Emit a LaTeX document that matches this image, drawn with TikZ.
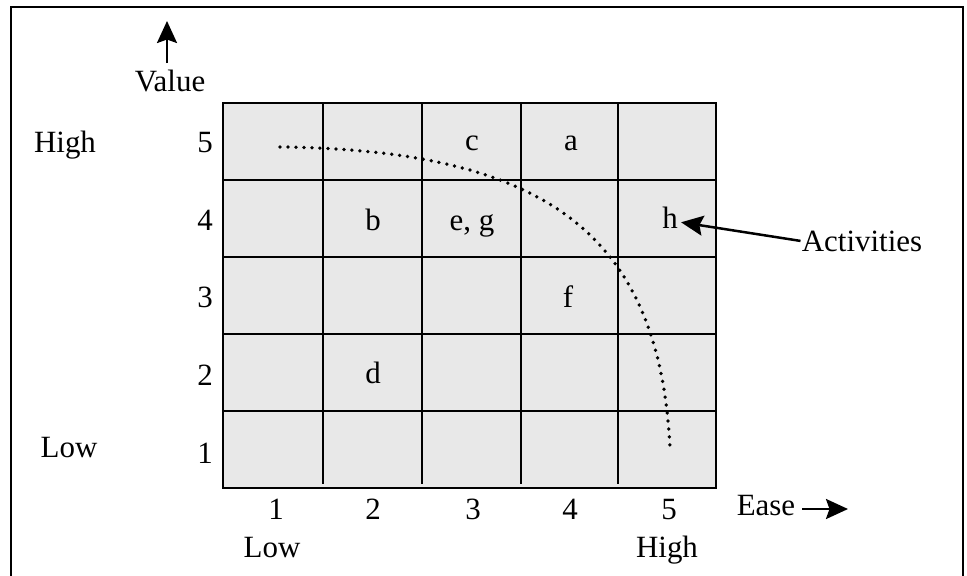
\documentclass[tikz,border=0pt]{standalone}
\usepackage{fontspec}
\setmainfont{Liberation Serif}
\usetikzlibrary{arrows.meta}
\definecolor{cellgray}{HTML}{E8E8E8}
\begin{document}
\begin{tikzpicture}[x=0.02cm, y=-0.02cm, line width=0.055cm,
  every node/.style={font=\fontsize{17.6}{20}\selectfont, inner sep=0pt, anchor=base},
  pointer/.style={line width=0.05cm, -{Stealth[length=0.44cm, width=0.4cm, inset=0.07cm]}}]
  \useasboundingbox (0,0) rectangle (967,575);
  % outer frame, open at the bottom
  \draw (11,580) -- (11,7) -- (963,7) -- (963,580);
  % the 5 x 5 grid
  \fill[cellgray] (223,103) rectangle (716,488);
  \foreach \x in {323,422,521,618} \draw (\x,103) -- (\x,484);
  \foreach \y in {180,257,334,411} \draw (223,\y) -- (716,\y);
  \draw (223,103) rectangle (716,488);
  % value axis
  \foreach \n/\y in {5/152,4/230,3/307,2/385,1/463} \node (r\n) at (205,\y) {\n};
  \node (vhigh) at (65,152) {High};
  \node (vlow) at (69,457) {Low};
  \node (val) at (170,91) {Value};
  \coordinate (vbase) at (167,63);
  \coordinate (vtip) at (167,21);
  \draw[pointer] (vbase) -- (vtip);
  % ease axis
  \foreach \n/\x in {1/276,2/373,3/473,4/570,5/669} \node (c\n) at (\x,519) {\n};
  \node (elow) at (272,557) {Low};
  \node (ehigh) at (667,557) {High};
  \node (ease) at (766,515) {Ease};
  \coordinate (ebase) at (802,509);
  \coordinate (etip) at (848,509);
  \draw[pointer] (ebase) -- (etip);
  % activities in their cells
  \node (c) at (472,150) {c};
  \node (a) at (571,150) {a};
  \node (b) at (373,230) {b};
  \node (eg) at (472,230) {e, g};
  \node (h) at (670,228) {h};
  \node (f) at (568,307) {f};
  \node (d) at (373,383) {d};
  \node (act) at (862,251) {Activities};
  \draw[pointer] (act.west) -- ([shift={(2,5)}]h.east);
  % dotted frontier
  \draw[line width=0.075cm, line cap=round, dash pattern=on 0pt off 0.16cm]
    (280,147) .. controls (540,150) and (660,230) .. (670,449);
\end{tikzpicture}
\end{document}
